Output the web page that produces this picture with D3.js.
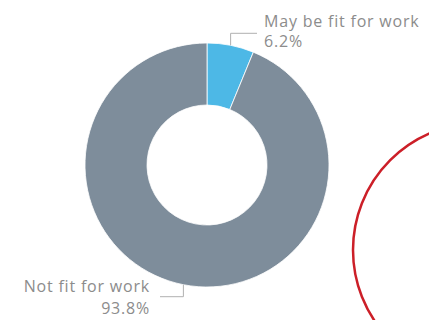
<!DOCTYPE html>
<html>
<head>
<meta charset="utf-8">
<script src="https://cdn.jsdelivr.net/npm/d3@7"></script>
<style>
  html, body { margin: 0; padding: 0; background: #fff; }
  svg { display: block; }
  .lbl { font-family: "Open Sans", "Liberation Sans", sans-serif; font-size: 16px; letter-spacing: 0.8px; fill: #8c8c8c; }
</style>
</head>
<body>
<svg id="chart" width="429" height="320"></svg>
<script>
// Work capability split
const categories = ["May be fit for work", "Not fit for work"];
const values = [6.2, 93.8];
const valueLabels = ["6.2%", "93.8%"];
const colors = ["#4db8e6", "#7e8d9b"];

const svg = d3.select("#chart");
const cx = 207, cy = 165, outerR = 122, innerR = 60;

const pie = d3.pie().sort(null).value(d => d)(values);
const arc = d3.arc().innerRadius(innerR).outerRadius(outerR);

const g = svg.append("g").attr("transform", `translate(${cx},${cy})`);
g.selectAll("path.slice")
  .data(pie)
  .join("path")
  .attr("class", "slice")
  .attr("d", arc)
  .attr("fill", (d, i) => colors[i])
  .attr("stroke", "#ffffff")
  .attr("stroke-width", 0.8);

// Leader lines: from slice edge midpoint, a short elbow to the label
const edge = d3.arc().innerRadius(outerR).outerRadius(outerR);
const leaders = [
  { i: 0, dy: -12, endX: 257, anchor: "start", textX: 264, y1: 27, y2: 47 },
  { i: 1, dy: 12, endX: 160, anchor: "end", textX: 150, y1: 292, y2: 314 }
];
leaders.forEach(L => {
  const [px, py] = edge.centroid(pie[L.i]);
  const sx = cx + px, sy = cy + py;
  const ey = sy + L.dy;
  svg.append("path")
    .attr("d", `M${sx},${sy}L${sx},${ey}L${L.endX},${ey}`)
    .attr("fill", "none")
    .attr("stroke", "#b0b0b0")
    .attr("stroke-width", 1);
  svg.append("text").attr("class", "lbl")
    .attr("x", L.textX).attr("y", L.y1)
    .attr("text-anchor", L.anchor)
    .text(categories[L.i]);
  svg.append("text").attr("class", "lbl")
    .attr("x", L.textX).attr("y", L.y2)
    .attr("text-anchor", L.anchor)
    .text(valueLabels[L.i]);
});

// Red highlight ring on the right
svg.append("circle")
  .attr("cx", 480).attr("cy", 250)
  .attr("r", 127)
  .attr("fill", "none")
  .attr("stroke", "#cc1f28")
  .attr("stroke-width", 2.5);
</script>
</body>
</html>
